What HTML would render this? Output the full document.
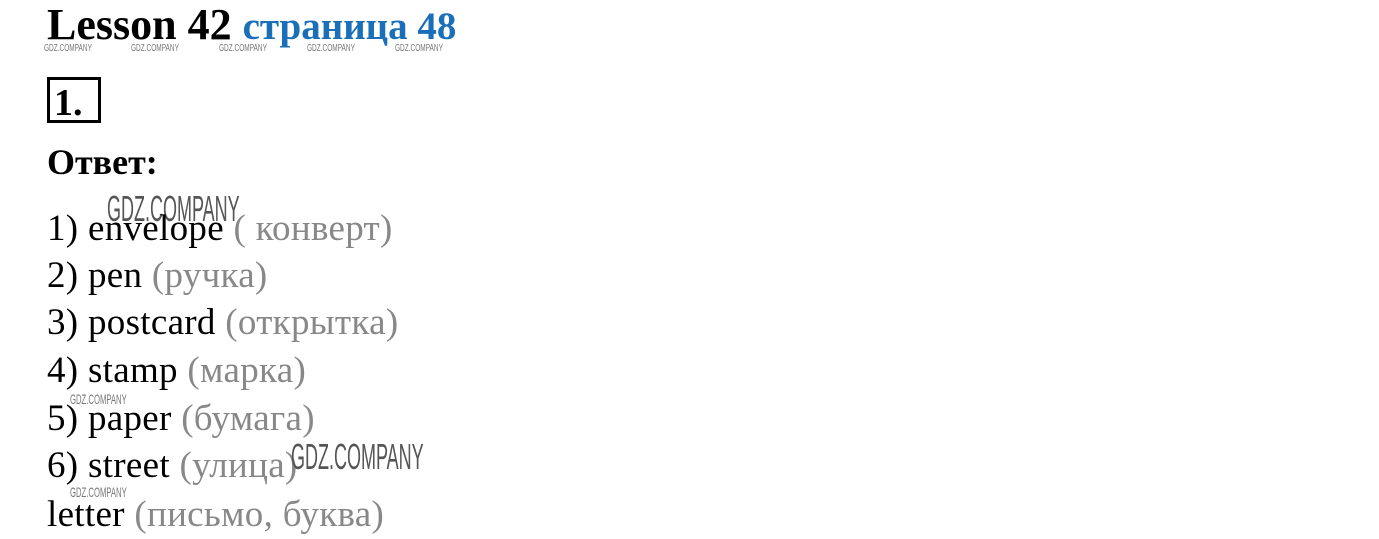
<!DOCTYPE html>
<html><head><meta charset="utf-8"><style>
body{margin:0;width:1379px;height:539px;background:#fff;position:relative;overflow:hidden;font-family:"Liberation Serif","Noto Serif CJK SC",serif}
.a{position:absolute;white-space:nowrap}
.l{position:absolute;left:47px;font-size:37px;line-height:37px;color:#000;white-space:nowrap;letter-spacing:0.3px}
.g{color:#888}
.w{position:absolute;font-family:"Liberation Sans",sans-serif;color:#777;transform-origin:0 0;white-space:nowrap}
</style></head><body>
<div class="a" style="left:47px;top:2px;font-size:44px;font-weight:bold;line-height:46px">Lesson 42 <span style="color:#1a6fb8;font-size:39px">страница 48</span></div>
<div class="w" style="left:44px;top:43px;font-size:10px;transform:scaleX(.65)">GDZ.COMPANY</div>
<div class="w" style="left:131px;top:43px;font-size:10px;transform:scaleX(.65)">GDZ.COMPANY</div>
<div class="w" style="left:219px;top:43px;font-size:10px;transform:scaleX(.65)">GDZ.COMPANY</div>
<div class="w" style="left:307px;top:43px;font-size:10px;transform:scaleX(.65)">GDZ.COMPANY</div>
<div class="w" style="left:395px;top:43px;font-size:10px;transform:scaleX(.65)">GDZ.COMPANY</div>
<div class="a" style="left:47px;top:77px;width:44px;height:40px;border:3px solid #000;font-size:38px;font-weight:bold;line-height:46px;padding-left:4px">1.</div>
<div class="a" style="left:47px;top:142px;font-size:36px;font-weight:bold;line-height:40px">Ответ:</div>
<div class="w" style="left:107px;top:188px;font-size:36px;color:#555;transform:scaleX(.5)">GDZ.COMPANY</div>
<div class="l" style="top:210px">1) envelope <span class="g">( конверт)</span></div>
<div class="l" style="top:257px">2) pen <span class="g">(ручка)</span></div>
<div class="l" style="top:304px">3) postcard <span class="g">(открытка)</span></div>
<div class="l" style="top:352px">4) stamp <span class="g">(марка)</span></div>
<div class="l" style="top:400px">5) paper <span class="g">(бумага)</span></div>
<div class="l" style="top:447px">6) street <span class="g">(улица)</span></div>
<div class="l" style="top:496px">letter <span class="g">(письмо, буква)</span></div>
<div class="w" style="left:70px;top:391px;font-size:14px;transform:scaleX(.55)">GDZ.COMPANY</div>
<div class="w" style="left:70px;top:484px;font-size:14px;transform:scaleX(.55)">GDZ.COMPANY</div>
<div class="w" style="left:291px;top:436px;font-size:36px;color:#555;transform:scaleX(.5)">GDZ.COMPANY</div>
</body></html>
